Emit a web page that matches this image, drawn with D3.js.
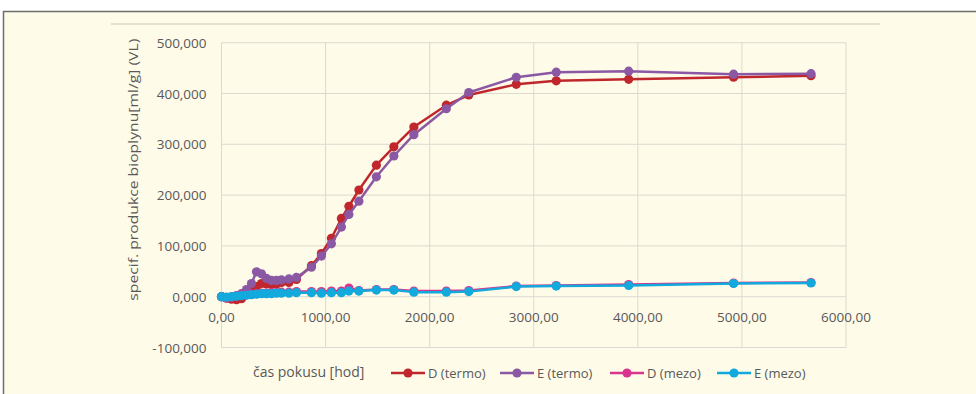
<!DOCTYPE html>
<html>
<head>
<meta charset="utf-8">
<script src="https://cdn.jsdelivr.net/npm/d3@7"></script>
<style>
  body { margin: 0; background: #ffffff; }
  svg { display: block; font-family: "Open Sans", sans-serif; }
</style>
</head>
<body>
<svg id="drawing_region"></svg>
<script>
// hodiny pokusu (stejne pro vsechny serie)
const hours = [0, 48, 96, 144, 192, 240, 288, 336, 384, 432, 480, 528, 576, 648, 720,
  864, 960, 1056, 1152, 1224, 1320, 1488, 1656, 1848, 2160, 2376, 2832, 3216, 3912, 4920, 5664]

const d_termo = [0, -3, -5, -6, -4, 4, 12, 20, 26, 25, 24, 25, 28, 28, 34,
  61, 85, 115, 154, 178, 210, 259, 295, 334, 377, 397, 418, 425, 428, 432, 435]
const e_termo = [0, -2, -1, 2, 6, 14, 26, 49, 45, 36, 32, 32, 33, 35, 38,
  58, 80, 104, 137, 162, 188, 236, 277, 319, 370, 402, 432, 442, 444, 438, 439]
const d_mezo = [0, -2, -1, 1, 3, 4, 5, 6, 7, 7, 8, 8, 9, 9, 10,
  10, 10, 11, 11, 17, 12, 14, 14, 11, 11, 12, 21, 22, 24, 27, 28]
const e_mezo = [0, -1, 0, 1, 2, 3, 4, 5, 6, 6, 6, 7, 7, 7, 8,
  8, 7, 8, 8, 11, 11, 13, 13, 9, 9, 10, 20, 21, 22, 26, 27]

const series_names = ['D (termo)', 'E (termo)', 'D (mezo)', 'E (mezo)']
const series_colors = ['#c0272d', '#8b58a3', '#d9358f', '#12a9dc']
const x_ticks = [0, 1000, 2000, 3000, 4000, 5000, 6000]
const y_ticks = [-100, 0, 100, 200, 300, 400, 500]

class ScatterLines{
    constructor(config, series){
        this.config = config
        this.series = series
        this.init()
    }

    init(){
        let self = this
        self.svg = d3.select(self.config.parent)
            .attr('width', self.config.width)
            .attr('height', self.config.height)

        // ramecek
        self.svg.append('rect')
            .attr('x', 3.5).attr('y', 11.5)
            .attr('width', self.config.width + 10).attr('height', self.config.height)
            .attr('fill', '#fefbe9')
            .attr('stroke', '#6e6e6e')
            .attr('stroke-width', 1.5)

        self.svg.append('line')
            .attr('x1', 111).attr('x2', 880)
            .attr('y1', 24).attr('y2', 24)
            .attr('stroke', '#e3e0d2')
            .attr('stroke-width', 2)

        const m = self.config.margin
        self.xscale = d3.scaleLinear().domain([0, 6000]).range([m.left, self.config.width - m.right])
        self.yscale = d3.scaleLinear().domain([-100, 500]).range([self.config.height - m.bottom, m.top])

        const loc = d3.formatLocale({decimal: ',', thousands: ' ', grouping: [3], currency: ['', ''], minus: '-'})
        self.xfmt = loc.format('.2f')
        self.yfmt = loc.format('.3f')
    }

    render(){
        let self = this
        const xs = self.xscale, ys = self.yscale
        const grid = self.svg.append('g')

        grid.selectAll('.hg').data(y_ticks).enter().append('line')
            .attr('x1', xs(0)).attr('x2', xs(6000))
            .attr('y1', d => ys(d)).attr('y2', d => ys(d))
            .attr('stroke', '#dcdad0').attr('stroke-width', 1)
        grid.selectAll('.vg').data(x_ticks).enter().append('line')
            .attr('x1', d => xs(d)).attr('x2', d => xs(d))
            .attr('y1', ys(-100)).attr('y2', ys(500))
            .attr('stroke', '#dcdad0').attr('stroke-width', 1)

        // popisky os
        self.svg.append('g').selectAll('text').data(y_ticks).enter().append('text')
            .attr('x', xs(0) - 15)
            .attr('y', d => ys(d) + 5)
            .attr('text-anchor', 'end')
            .attr('font-size', 13.5)
            .attr('fill', '#595959')
            .text(d => self.yfmt(d))

        self.svg.append('g').selectAll('text').data(x_ticks).enter().append('text')
            .attr('x', d => xs(d))
            .attr('y', ys(0) + 25)
            .attr('text-anchor', 'middle')
            .attr('font-size', 13.5)
            .attr('fill', '#595959')
            .text(d => self.xfmt(d))

        self.svg.append('text')
            .attr('transform', `translate(138,${ys(250)}) rotate(-90)`)
            .attr('text-anchor', 'middle')
            .attr('font-size', 13.5)
            .attr('textLength', 262)
            .attr('lengthAdjust', 'spacingAndGlyphs')
            .attr('fill', '#595959')
            .text('specif. produkce bioplynu[ml/g] (VL)')

        self.svg.append('text')
            .attr('x', 253).attr('y', 377)
            .attr('font-size', 14)
            .attr('fill', '#595959')
            .text('čas pokusu [hod]')

        const line = d3.line()
            .x((d, i) => xs(hours[i]))
            .y(d => ys(d))

        self.series.forEach((s, k) => {
            const g = self.svg.append('g')
            g.append('path')
                .attr('d', line(s))
                .attr('fill', 'none')
                .attr('stroke', series_colors[k])
                .attr('stroke-width', 2.5)
                .attr('stroke-linejoin', 'round')
            g.selectAll('circle').data(s).enter().append('circle')
                .attr('cx', (d, i) => xs(hours[i]))
                .attr('cy', d => ys(d))
                .attr('r', 4.6)
                .attr('fill', series_colors[k])
        })

        // legenda
        const legend_x = [391, 500, 610, 717]
        const legend = self.svg.append('g').selectAll('g').data(series_names).enter().append('g')
            .attr('transform', (d, i) => `translate(${legend_x[i]},373)`)
        legend.append('line')
            .attr('x1', 0).attr('x2', 34)
            .attr('stroke', (d, i) => series_colors[i])
            .attr('stroke-width', 2.5)
        legend.append('circle')
            .attr('cx', 17).attr('r', 4.6)
            .attr('fill', (d, i) => series_colors[i])
        legend.append('text')
            .attr('x', 37).attr('y', 5)
            .attr('font-size', 13)
            .attr('fill', '#595959')
            .text(d => d)
    }
}

const config = {
    parent: '#drawing_region',
    width: 976,
    height: 394,
    margin: {top: 42.7, right: 130, bottom: 46.5, left: 221.5}
}

const chart = new ScatterLines(config, [d_termo, e_termo, d_mezo, e_mezo])
chart.render()
</script>
</body>
</html>
